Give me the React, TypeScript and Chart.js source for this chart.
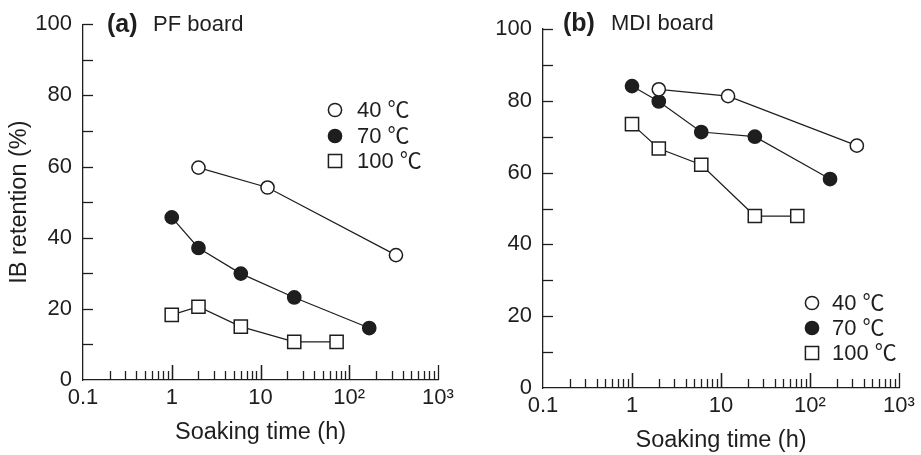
import React, { useEffect, useRef } from 'react';
import { Chart, registerables } from 'chart.js';

Chart.register(...registerables);

// ---------- data ----------
const xTickValues = [0.1, 1, 10, 100, 1000];
const xTickLabels = ['0.1', '1', '10', '10²', '10³'];
const yTickValues = [0, 20, 40, 60, 80, 100];
const legendLabels = ['40 ℃', '70 ℃', '100 ℃'];

// (a) PF board
const pfHours40 = [2, 12, 336];
const pfRetention40 = [59.7, 54.1, 35.1];
const pfHours70 = [1, 2, 6, 24, 168];
const pfRetention70 = [45.7, 37.1, 29.9, 23.2, 14.6];
const pfHours100 = [1, 2, 6, 24, 72];
const pfRetention100 = [18.3, 20.6, 15.0, 10.7, 10.7];

// (b) MDI board
const mdiHours40 = [2, 12, 336];
const mdiRetention40 = [83.2, 81.3, 67.5];
const mdiHours70 = [1, 2, 6, 24, 168];
const mdiRetention70 = [84.1, 79.8, 71.3, 70.0, 58.2];
const mdiHours100 = [1, 2, 6, 24, 72];
const mdiRetention100 = [73.5, 66.7, 62.2, 47.9, 47.9];

const FONT = "'Liberation Sans', Arial, 'Noto Sans CJK SC', sans-serif";
const INK = '#1e1e1e';

type Panel = {
  tag: string;
  name: string;
  series: { hours: number[]; values: number[] }[];
  top: number;
  xAxisHeight: number;
  xTitlePad: number;
  showYTitle: boolean;
  tagX: number;
  nameX: number;
  headY: number;
  legendX: number;
  legendTextX: number;
  legendY: number[];
};

const markerStyles = [
  { pointStyle: 'circle', radius: 6.6, bg: '#ffffff' },
  { pointStyle: 'circle', radius: 6.6, bg: INK },
  { pointStyle: 'rect', radius: 9.3, bg: '#ffffff' },
];

function drawMarker(ctx: CanvasRenderingContext2D, style: string, r: number, bg: string, x: number, y: number) {
  ctx.save();
  ctx.fillStyle = bg;
  ctx.strokeStyle = INK;
  ctx.lineWidth = 1.5;
  ctx.beginPath();
  if (style === 'circle') {
    ctx.arc(x, y, r, 0, Math.PI * 2);
  } else {
    const s = Math.SQRT1_2 * r;
    ctx.rect(x - s, y - s, 2 * s, 2 * s);
  }
  ctx.fill();
  ctx.stroke();
  ctx.restore();
}

function makeChart(canvas: HTMLCanvasElement, p: Panel) {
  const decor = {
    id: 'decor',
    afterDraw(chart: any) {
      const { ctx, chartArea } = chart;
      const xs = chart.scales.x;
      const ys = chart.scales.y;
      ctx.save();
      ctx.strokeStyle = INK;
      ctx.lineWidth = 1.3;
      // y ticks (inward)
      for (let v = 10; v <= 100; v += 10) {
        const py = Math.round(ys.getPixelForValue(v)) + 0.5;
        ctx.beginPath();
        ctx.moveTo(chartArea.left, py);
        ctx.lineTo(chartArea.left + 10, py);
        ctx.stroke();
      }
      // x ticks (inward)
      for (const d of [0.1, 1, 10, 100]) {
        for (let k = 1; k <= 10; k++) {
          const v = d * k;
          if (v <= 0.1) continue;
          const major = k === 1 || k === 10;
          const px = Math.round(xs.getPixelForValue(v)) + 0.5;
          ctx.beginPath();
          ctx.moveTo(px, chartArea.bottom);
          ctx.lineTo(px, chartArea.bottom - (major ? 15 : 9));
          ctx.stroke();
        }
      }
      ctx.restore();

      // heading
      ctx.save();
      ctx.fillStyle = INK;
      ctx.textBaseline = 'middle';
      ctx.textAlign = 'left';
      ctx.font = `bold 25px ${FONT}`;
      ctx.fillText(p.tag, p.tagX, p.headY);
      ctx.font = `22px ${FONT}`;
      ctx.fillText(p.name, p.nameX, p.headY);

      // legend
      chart.data.datasets.forEach((ds: any, i: number) => {
        const m = markerStyles[i];
        drawMarker(ctx, m.pointStyle, m.radius, m.bg, p.legendX, p.legendY[i]);
        ctx.fillStyle = INK;
        ctx.font = `22px ${FONT}`;
        ctx.fillText(ds.label, p.legendTextX, p.legendY[i] + 1);
      });
      ctx.restore();
    },
  };

  return new Chart(canvas, {
    type: 'line',
    data: {
      datasets: p.series.map((s, i) => ({
        label: legendLabels[i],
        data: s.hours.map((h, j) => ({ x: h, y: s.values[j] })),
        borderColor: INK,
        borderWidth: 1.2,
        pointStyle: markerStyles[i].pointStyle as any,
        pointRadius: markerStyles[i].radius,
        pointBackgroundColor: markerStyles[i].bg,
        pointBorderColor: INK,
        pointBorderWidth: 1.5,
        tension: 0,
        fill: false,
      })),
    },
    options: {
      responsive: false,
      animation: false,
      devicePixelRatio: 1,
      layout: { padding: { left: 0, top: p.top, right: 22, bottom: 0 } },
      plugins: { legend: { display: false }, tooltip: { enabled: false } },
      scales: {
        x: {
          type: 'logarithmic',
          min: 0.1,
          max: 1000,
          grid: { display: false, drawTicks: false },
          border: { display: true, color: INK, width: 1.3 },
          afterBuildTicks: (s: any) => {
            s.ticks = xTickValues.map((v) => ({ value: v }));
          },
          afterFit: (s: any) => {
            s.height = p.xAxisHeight;
          },
          ticks: {
            autoSkip: false,
            maxRotation: 0,
            padding: 5,
            color: INK,
            font: { family: FONT, size: 22 },
            callback: (v: any) => {
              const i = xTickValues.findIndex((t) => Math.abs(t - Number(v)) < 1e-9);
              return i >= 0 ? xTickLabels[i] : '';
            },
          },
          title: {
            display: true,
            text: 'Soaking time (h)',
            color: INK,
            font: { family: FONT, size: 23.5 },
            padding: { top: 0, bottom: p.xTitlePad },
          },
        },
        y: {
          type: 'linear',
          min: 0,
          max: 100,
          grid: { display: false, drawTicks: false },
          border: { display: true, color: INK, width: 1.3 },
          afterBuildTicks: (s: any) => {
            s.ticks = yTickValues.map((v) => ({ value: v }));
          },
          afterFit: (s: any) => {
            s.width = 83;
          },
          ticks: {
            padding: 11,
            color: INK,
            font: { family: FONT, size: 22 },
          },
          title: {
            display: p.showYTitle,
            text: 'IB retention (%)',
            color: INK,
            font: { family: FONT, size: 23.5 },
            padding: { top: 5, bottom: 0 },
          },
        },
      },
    },
    plugins: [decor],
  } as any);
}

const panelA: Panel = {
  tag: '(a)',
  name: 'PF board',
  series: [
    { hours: pfHours40, values: pfRetention40 },
    { hours: pfHours70, values: pfRetention70 },
    { hours: pfHours100, values: pfRetention100 },
  ],
  top: 21,
  xAxisHeight: 75,
  xTitlePad: 8,
  showYTitle: true,
  tagX: 107,
  nameX: 153,
  headY: 25,
  legendX: 335,
  legendTextX: 357,
  legendY: [110, 136, 161],
};

const panelB: Panel = {
  tag: '(b)',
  name: 'MDI board',
  series: [
    { hours: mdiHours40, values: mdiRetention40 },
    { hours: mdiHours70, values: mdiRetention70 },
    { hours: mdiHours100, values: mdiRetention100 },
  ],
  top: 29,
  xAxisHeight: 67,
  xTitlePad: 0,
  showYTitle: false,
  tagX: 103,
  nameX: 151,
  headY: 24,
  legendX: 352,
  legendTextX: 372,
  legendY: [303, 328, 353],
};

export default function App() {
  const refA = useRef<HTMLCanvasElement>(null);
  const refB = useRef<HTMLCanvasElement>(null);

  useEffect(() => {
    const a = makeChart(refA.current!, panelA);
    const b = makeChart(refB.current!, panelB);
    return () => {
      a.destroy();
      b.destroy();
    };
  }, []);

  return (
    <div style={{ position: 'absolute', left: 0, top: 0, width: 921, height: 455, background: '#fff' }}>
      <canvas ref={refA} width={460} height={455} style={{ position: 'absolute', left: 0, top: 0, width: 460, height: 455 }} />
      <canvas ref={refB} width={461} height={455} style={{ position: 'absolute', left: 460, top: 0, width: 461, height: 455 }} />
    </div>
  );
}
